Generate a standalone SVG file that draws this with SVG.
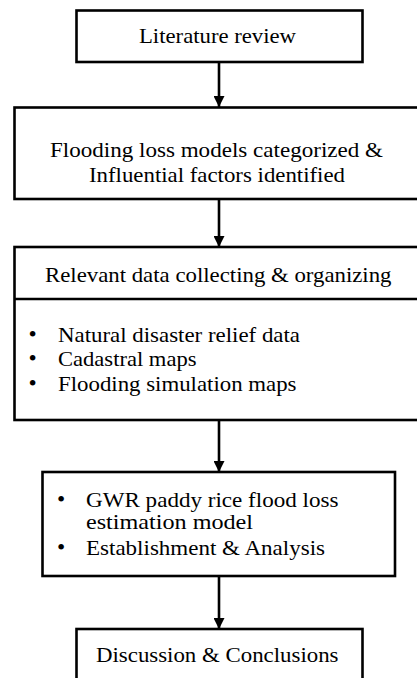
<svg xmlns="http://www.w3.org/2000/svg" width="417" height="678" viewBox="0 0 417 678">
<style>
.box{fill:#fff;stroke:#000;stroke-width:2.6}
.ln{stroke:#000;stroke-width:2.6;fill:none}
.b{font-size:23.5px}
</style>
<defs>
<marker id="ah" markerUnits="userSpaceOnUse" markerWidth="11" markerHeight="11" refX="11" refY="5.5" orient="auto">
<path d="M0,0 L11,5.5 L0,11 Z" fill="#000"/>
</marker>
</defs>
<rect width="417" height="678" fill="#fff"/>
<g id="connectors">
<line class="ln" x1="219" y1="62" x2="219" y2="107" marker-end="url(#ah)"/>
<line class="ln" x1="219" y1="199" x2="219" y2="247" marker-end="url(#ah)"/>
<line class="ln" x1="219" y1="420" x2="219" y2="472" marker-end="url(#ah)"/>
<line class="ln" x1="219" y1="576" x2="219" y2="629" marker-end="url(#ah)"/>
</g>
<g font-family="Liberation Serif, Times New Roman, serif" font-size="21.5" fill="#000">
<g id="n1">
<rect class="box" x="76.5" y="10.5" width="286" height="51.5"/>
<text x="139" y="42.5" textLength="157" lengthAdjust="spacingAndGlyphs">Literature review</text>
</g>
<g id="n2">
<rect class="box" x="14.5" y="107.5" width="410" height="91.5"/>
<text x="50" y="157" textLength="333" lengthAdjust="spacingAndGlyphs">Flooding loss models categorized &amp;</text>
<text x="89" y="182" textLength="256" lengthAdjust="spacingAndGlyphs">Influential  factors identified</text>
</g>
<g id="n3">
<rect class="box" x="14.5" y="247" width="410" height="173"/>
<line class="ln" x1="14.5" y1="299" x2="420" y2="299"/>
<text x="45" y="282" textLength="346.5" lengthAdjust="spacingAndGlyphs">Relevant data collecting &amp; organizing</text>
<text class="b" x="28.6" y="342">•</text>
<text class="b" x="28.6" y="366">•</text>
<text class="b" x="28.6" y="391">•</text>
<text x="58" y="342" textLength="242" lengthAdjust="spacingAndGlyphs">Natural disaster relief data</text>
<text x="58" y="366" textLength="138.5" lengthAdjust="spacingAndGlyphs">Cadastral maps</text>
<text x="58" y="391" textLength="238.5" lengthAdjust="spacingAndGlyphs">Flooding simulation maps</text>
</g>
<g id="n4">
<rect class="box" x="42.5" y="472" width="352.5" height="104"/>
<text class="b" x="56.9" y="507">•</text>
<text class="b" x="56.9" y="555">•</text>
<text x="86" y="507" textLength="252.5" lengthAdjust="spacingAndGlyphs">GWR paddy rice flood loss</text>
<text x="86" y="529" textLength="167" lengthAdjust="spacingAndGlyphs">estimation model</text>
<text x="86" y="555" textLength="239" lengthAdjust="spacingAndGlyphs">Establishment &amp; Analysis</text>
</g>
<g id="n5">
<rect class="box" x="76.5" y="629" width="286" height="60"/>
<text x="96" y="662" textLength="242.5" lengthAdjust="spacingAndGlyphs">Discussion &amp; Conclusions</text>
</g>
</g>
</svg>
